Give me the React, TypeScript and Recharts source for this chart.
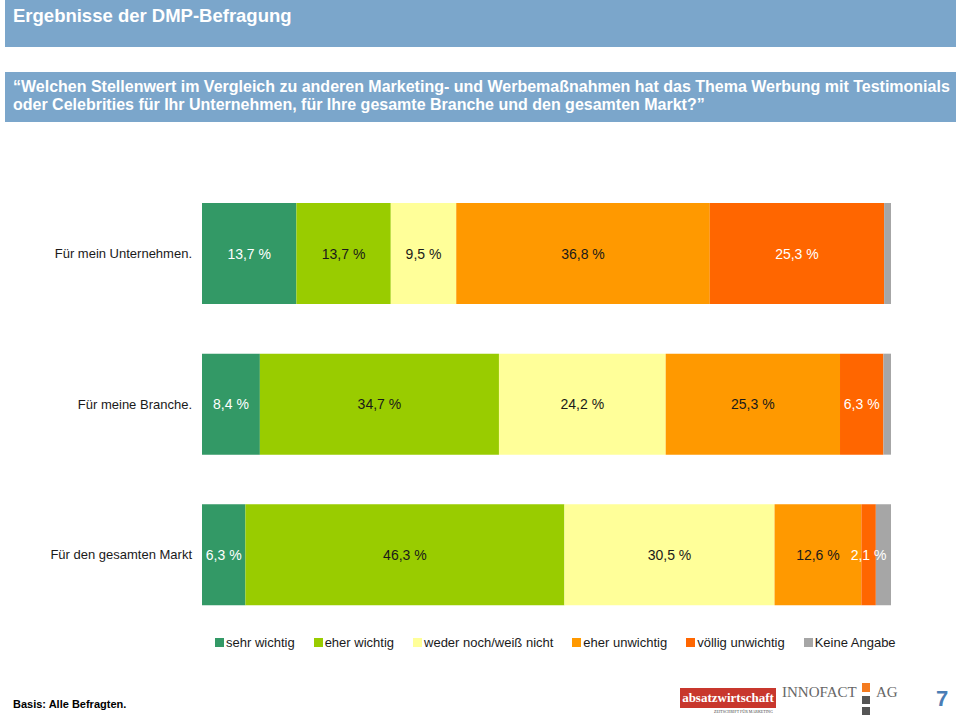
import { Bar, BarChart, LabelList, Legend, XAxis, YAxis } from 'recharts';

const categories = ['Für mein Unternehmen.', 'Für meine Branche.', 'Für den gesamten Markt'];
const sehrWichtig = [13.7, 8.4, 6.3];
const eherWichtig = [13.7, 34.7, 46.3];
const wederNoch = [9.5, 24.2, 30.5];
const eherUnwichtig = [36.8, 25.3, 12.6];
const voelligUnwichtig = [25.3, 6.3, 2.1];
const keineAngabe = [1.0, 1.1, 2.2];

const series = [
	{ key: 's1', name: 'sehr wichtig', values: sehrWichtig, fill: '#339966', text: '#ffffff', label: true },
	{ key: 's2', name: 'eher wichtig', values: eherWichtig, fill: '#99cc00', text: '#1a1a1a', label: true },
	{ key: 's3', name: 'weder noch/weiß nicht', values: wederNoch, fill: '#ffff99', text: '#1a1a1a', label: true },
	{ key: 's4', name: 'eher unwichtig', values: eherUnwichtig, fill: '#ff9900', text: '#1a1a1a', label: true },
	{ key: 's5', name: 'völlig unwichtig', values: voelligUnwichtig, fill: '#ff6600', text: '#ffffff', label: true },
	{ key: 's6', name: 'Keine Angabe', values: keineAngabe, fill: '#a6a6a6', text: '#ffffff', label: false },
];

const data = categories.map((name, i) => {
	const row: Record<string, string | number> = { name };
	series.forEach((s) => {
		row[s.key] = s.values[i];
	});
	return row;
});

const fmt = (v: number) => v.toFixed(1).replace('.', ',') + ' %';

const makeLabel = (color: string) => (props: any) => {
	const { x, y, width, height, value } = props;
	return (
		<text
			x={Number(x) + Number(width) / 2}
			y={Number(y) + Number(height) / 2}
			textAnchor="middle"
			dominantBaseline="central"
			fill={color}
			fontSize={14}
			fontFamily="Arial, 'Liberation Sans', sans-serif"
		>
			{fmt(Number(value))}
		</text>
	);
};

// keep legend in series order (recharts sorts payload by name otherwise)
const LegendContent = (props: any) => {
	const payload = [...(props.payload || [])].sort(
		(a: any, b: any) =>
			series.findIndex((s) => s.name === a.value) - series.findIndex((s) => s.name === b.value)
	);
	return (
		<div style={{ display: 'flex', gap: 19, paddingLeft: 215, fontSize: 13, color: '#1a1a1a', alignItems: 'center' }}>
			{payload.map((p: any) => (
				<div key={p.value} style={{ display: 'flex', alignItems: 'center', gap: 2 }}>
					<span style={{ width: 9, height: 9, background: p.color, display: 'inline-block' }} />
					<span>{p.value}</span>
				</div>
			))}
		</div>
	);
};

const blue = '#7ba6cb';

export default function App() {
	return (
		<div
			style={{
				position: 'absolute',
				left: 0,
				top: 0,
				width: 960,
				height: 716,
				background: '#ffffff',
				fontFamily: "Arial, 'Liberation Sans', sans-serif",
				overflow: 'hidden',
			}}
		>
			<div style={{ position: 'absolute', left: 5, top: 0, width: 951, height: 47, background: blue }}>
				<div style={{ position: 'absolute', left: 8, top: 5, color: '#fff', fontWeight: 'bold', fontSize: 18.5 }}>
					Ergebnisse der DMP-Befragung
				</div>
			</div>
			<div style={{ position: 'absolute', left: 5, top: 72, width: 951, height: 50, background: blue }}>
				<div style={{ position: 'absolute', left: 8, top: 6, color: '#fff', fontWeight: 'bold', fontSize: 16, lineHeight: '18px', whiteSpace: 'nowrap' }}>
					“Welchen Stellenwert im Vergleich zu anderen Marketing- und Werbemaßnahmen hat das Thema Werbung mit Testimonials
					<br />
					oder Celebrities für Ihr Unternehmen, für Ihre gesamte Branche und den gesamten Markt?”
				</div>
			</div>

			<div style={{ position: 'absolute', left: 0, top: 178 }}>
				<BarChart
					width={960}
					height={490}
					data={data}
					layout="vertical"
					margin={{ top: 0, right: 69, bottom: 38, left: 0 }}
					barSize={101}
				>
					<XAxis type="number" domain={[0, 100]} hide />
					<YAxis
						type="category"
						dataKey="name"
						width={202}
						axisLine={false}
						tickLine={false}
						tickSize={0}
						tickMargin={10}
						tick={{ fill: '#1a1a1a', fontSize: 13, fontFamily: "Arial, 'Liberation Sans', sans-serif" }}
					/>
					<Legend
						layout="horizontal"
						verticalAlign="middle"
						align="center"
						content={LegendContent}
						wrapperStyle={{ position: 'absolute', top: 457, left: 0, width: 960 }}
					/>
					{series.map((s) => (
						<Bar key={s.key} dataKey={s.key} name={s.name} stackId="a" fill={s.fill} isAnimationActive={false}>
							{s.label && <LabelList dataKey={s.key} content={makeLabel(s.text)} />}
						</Bar>
					))}
				</BarChart>
			</div>

			<div style={{ position: 'absolute', left: 13, top: 698, fontSize: 11, fontWeight: 'bold', color: '#000' }}>
				Basis: Alle Befragten.
			</div>

			<div style={{ position: 'absolute', left: 680, top: 688, width: 96, height: 20, background: '#c8372d', color: '#fff', fontFamily: "'Liberation Serif', serif", fontWeight: 'bold', fontSize: 13, textAlign: 'center', lineHeight: '20px' }}>
				absatzwirtschaft
			</div>
			<div style={{ position: 'absolute', left: 714, top: 709, fontSize: 4, color: '#444', fontFamily: "'Liberation Serif', serif" }}>
				ZEITSCHRIFT FÜR MARKETING
			</div>
			<div style={{ position: 'absolute', left: 782, top: 684, fontSize: 15, color: '#666', fontFamily: "'Liberation Serif', serif" }}>
				INNOFACT
			</div>
			<div style={{ position: 'absolute', left: 862, top: 683, width: 8, height: 9, background: '#f47b20' }} />
			<div style={{ position: 'absolute', left: 862, top: 696, width: 8, height: 8, background: '#555' }} />
			<div style={{ position: 'absolute', left: 862, top: 707, width: 8, height: 8, background: '#555' }} />
			<div style={{ position: 'absolute', left: 876, top: 684, fontSize: 15, color: '#666', fontFamily: "'Liberation Serif', serif" }}>
				AG
			</div>
			<div style={{ position: 'absolute', left: 936, top: 686, fontSize: 22, fontWeight: 'bold', color: '#4a7db5' }}>7</div>
		</div>
	);
}
